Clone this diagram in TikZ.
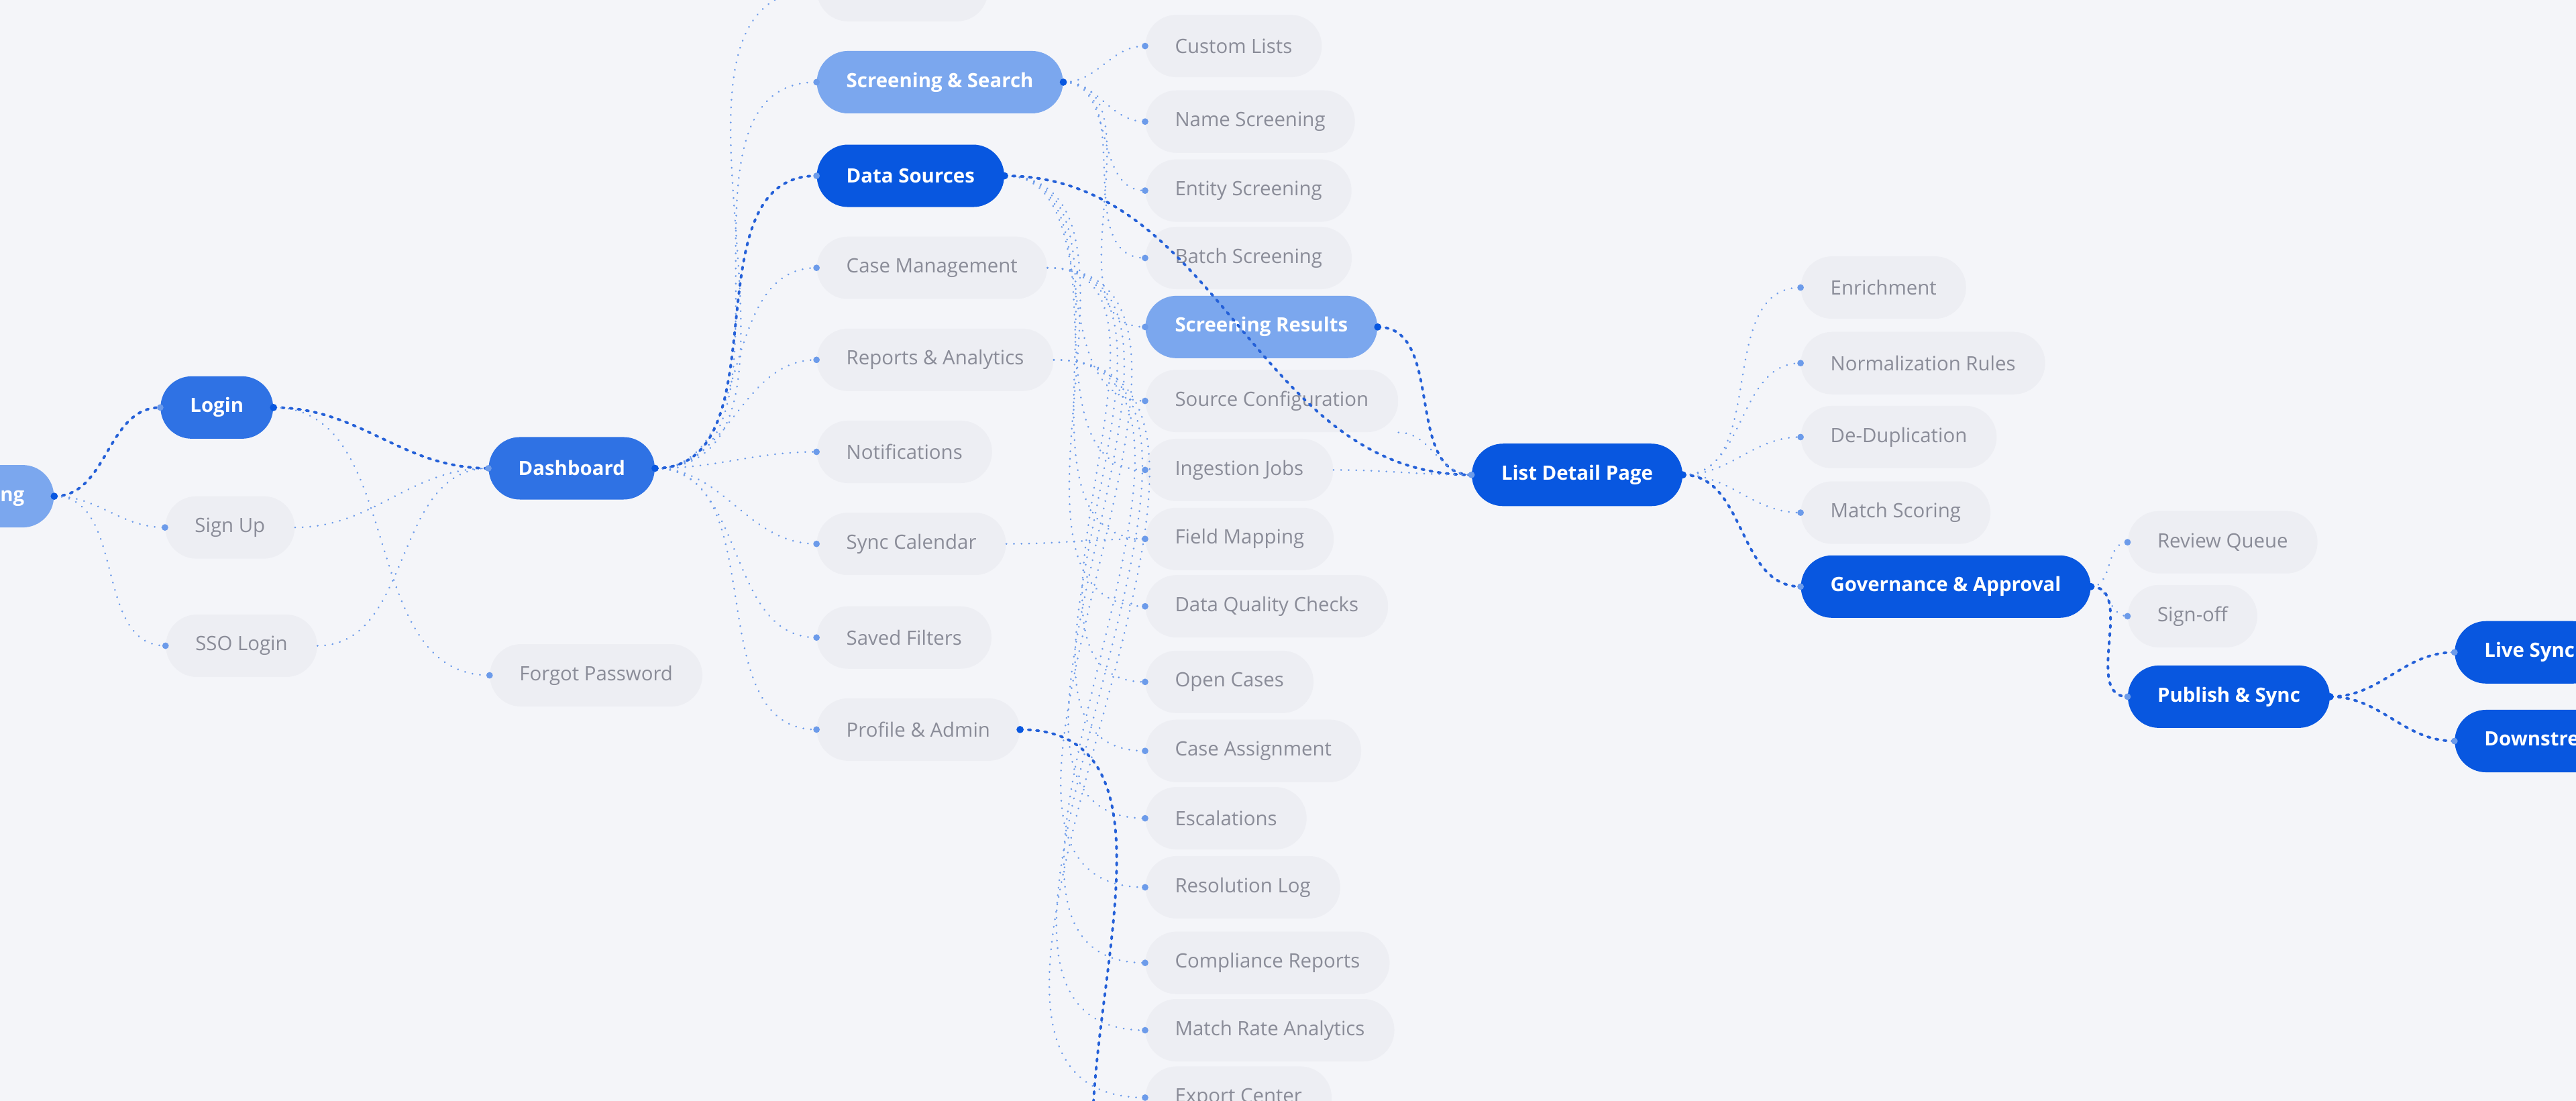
\documentclass[tikz,border=0pt]{standalone}
\usepackage{fontspec}
\setmainfont{Open Sans}
\usepackage{tikz}

\definecolor{bgc}{HTML}{F4F5F9}
\definecolor{greyc}{HTML}{EDEEF3}
\definecolor{greytxt}{HTML}{8A8C98}
\definecolor{darkc}{HTML}{0857E0}
\definecolor{midc}{HTML}{2F72E4}
\definecolor{lightc}{HTML}{7BA7EE}
\definecolor{linkc}{HTML}{6C9BEA}
\definecolor{hotc}{HTML}{2460D8}

\tikzset{
	pill/.style={shape=rectangle,rounded corners=19pt,minimum height=38pt,inner xsep=18pt,font=\fontsize{12}{14}\selectfont},
	page/.style={pill,fill=greyc,text=greytxt},
	dark/.style={pill,fill=darkc,text=white,font=\fontsize{12}{14}\selectfont\bfseries},
	mid/.style={pill,fill=midc,text=white,font=\fontsize{12}{14}\selectfont\bfseries},
	light/.style={pill,fill=lightc,text=white,font=\fontsize{12}{14}\selectfont\bfseries},
	link/.style={draw=linkc,line width=1.1pt,line cap=round,dash pattern=on 0.1pt off 4.5pt,out=0,in=180},
	hot/.style={draw=hotc,line width=1.6pt,line cap=round,dash pattern=on 1.5pt off 3.5pt,out=0,in=180},
}

\begin{document}
\begin{tikzpicture}[x=1pt,y=-1pt]
	\fill[bgc] (0,0) rectangle (1568,670);
	\useasboundingbox (0,0) rectangle (1568,670);

	\node[light,anchor=east] (onb) at (33, 302)    {Onboarding};
	\node[mid] (login) at (132, 248)   {Login};
	\node[page] (signup) at (140, 321)  {Sign Up};
	\node[page] (sso) at (147, 393)     {SSO Login};
	\node[mid] (dash) at (348, 285)     {Dashboard};
	\node[page,anchor=west] (forgot) at (298, 411) {Forgot Password};

	\node[page,anchor=west] (top) at (497, -6)      {Saved Views};
	\node[light,anchor=west] (screen) at (497, 50)  {Screening \& Search};
	\node[dark,anchor=west] (data) at (497, 107)    {Data Sources};
	\node[page,anchor=west] (cases) at (497, 163)   {Case Management};
	\node[page,anchor=west] (reports) at (497, 219) {Reports \& Analytics};
	\node[page,anchor=west] (notif) at (497, 275)   {Notifications};
	\node[page,anchor=west] (cal) at (497, 331)     {Sync Calendar};
	\node[page,anchor=west] (filters) at (497, 388) {Saved Filters};
	\node[page,anchor=west] (profile) at (497, 444) {Profile \& Admin};

	\node[page,anchor=west] (custom) at (697, 28)    {Custom Lists};
	\node[page,anchor=west] (name) at (697, 74)      {Name Screening};
	\node[page,anchor=west] (entity) at (697, 116)   {Entity Screening};
	\node[page,anchor=west] (batch) at (697, 157)    {Batch Screening};
	\node[light,anchor=west] (results) at (697, 199) {Screening Results};
	\node[page,anchor=west] (srccfg) at (697, 244)   {Source Configuration};
	\node[page,anchor=west] (ingest) at (697, 286)   {Ingestion Jobs};
	\node[page,anchor=west] (fields) at (697, 328)   {Field Mapping};
	\node[page,anchor=west] (dq) at (697, 369)       {Data Quality Checks};
	\node[page,anchor=west] (open) at (697, 415)     {Open Cases};
	\node[page,anchor=west] (assign) at (697, 457)   {Case Assignment};
	\node[page,anchor=west] (escal) at (697, 498)    {Escalations};
	\node[page,anchor=west] (reslog) at (697, 540)   {Resolution Log};
	\node[page,anchor=west] (comp) at (697, 586)     {Compliance Reports};
	\node[page,anchor=west] (rate) at (697, 627)     {Match Rate Analytics};
	\node[page,anchor=west] (export) at (697, 668)   {Export Center};
	\coordinate (below) at (665, 690);

	\node[dark] (detail) at (960, 289) {List Detail Page};
	\node[page,anchor=west] (enrich) at (1096, 175) {Enrichment};
	\node[page,anchor=west] (norm) at (1096, 221)   {Normalization Rules};
	\node[page,anchor=west] (dedup) at (1096, 266)  {De-Duplication};
	\node[page,anchor=west] (match) at (1096, 312)  {Match Scoring};
	\node[dark,anchor=west] (gov) at (1096, 357)    {Governance \& Approval};
	\node[page,anchor=west] (review) at (1295, 330) {Review Queue};
	\node[page,anchor=west] (signoff) at (1295, 375){Sign-off};
	\node[dark,anchor=west] (publish) at (1295, 424){Publish \& Sync};
	\node[dark,anchor=west] (live) at (1494, 397)   {Live Sync};
	\node[dark,anchor=west] (down) at (1494, 451)   {Downstream Systems};

	% links
	\path[hot] (onb.east) edge (login.west);
	\path[link] (onb.east) edge (signup.west);
	\path[link] (onb.east) edge (sso.west);
	\path[hot] (login.east) edge (dash.west);
	\path[link] (login.east) edge (forgot.west);
	\path[link] (signup.east) edge (dash.west);
	\path[link] (sso.east) edge (dash.west);
	\foreach \n in {top,screen,cases,reports,notif,cal,filters,profile}
		\path[link] (dash.east) edge (\n.west);
	\path[hot] (dash.east) edge (data.west);
	\foreach \n in {custom,name,entity,batch}
		\path[link] (screen.east) edge (\n.west);
	\path[link] (screen.east) edge (results.west);
	\foreach \n in {srccfg,ingest,fields,dq}
		\path[link] (data.east) edge (\n.west);
	\path[hot] (data.east) edge (detail.west);
	\foreach \n in {open,assign,escal,reslog}
		\path[link] (cases.east) edge (\n.west);
	\foreach \n in {comp,rate,export}
		\path[link] (reports.east) edge (\n.west);
	\path[link] (cal.east) edge (fields.west);
	\path[hot] (profile.east) edge[in=90] (below);
	\path[hot] (results.east) edge (detail.west);
	\path[link] (ingest.east) edge (detail.west);
	\path[link] (srccfg.south east) edge (detail.west);
	\foreach \n in {enrich,norm,dedup,match}
		\path[link] (detail.east) edge (\n.west);
	\path[hot] (detail.east) edge (gov.west);
	\path[link] (gov.east) edge (review.west);
	\path[link] (gov.east) edge (signoff.west);
	\path[hot] (gov.east) edge (publish.west);
	\path[hot] (publish.east) edge (live.west);
	\path[hot] (publish.east) edge (down.west);

	% end dots
	\foreach \n in {onb,login,dash,screen,data,results,detail,gov,publish,profile}
		\fill[darkc] (\n.east) circle (2.2pt);
	\foreach \n in {login,signup,sso,dash,forgot,top,screen,data,cases,reports,notif,cal,filters,profile,custom,name,entity,batch,results,srccfg,ingest,fields,dq,open,assign,escal,reslog,comp,rate,export,detail,enrich,norm,dedup,match,gov,review,signoff,publish,live,down}
		\fill[linkc] (\n.west) circle (2pt);
\end{tikzpicture}
\end{document}
